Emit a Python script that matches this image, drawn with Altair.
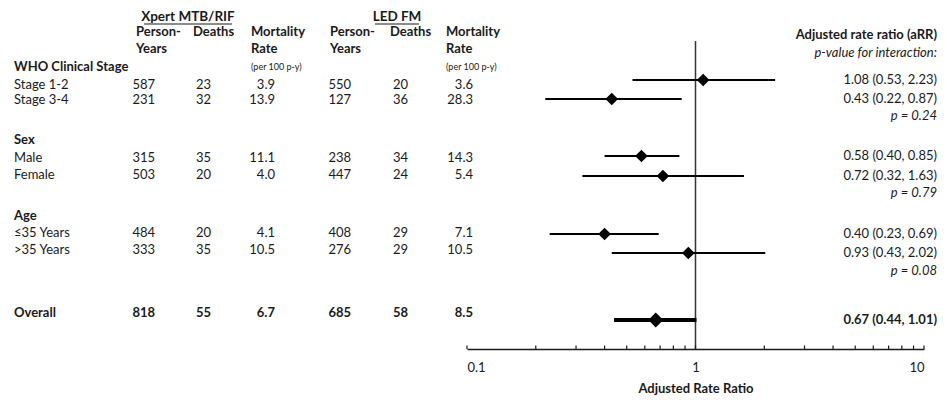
import altair as alt
import pandas as pd

# ---------------- data ----------------
group_labels = ["WHO Clinical Stage", "Sex", "Age"]
subgroups = ["Stage 1-2", "Stage 3-4", "Male", "Female", "≤35 Years", ">35 Years"]
xpert_py = [587, 231, 315, 503, 484, 333]
xpert_deaths = [23, 32, 35, 20, 20, 35]
xpert_rate = [3.9, 13.9, 11.1, 4.0, 4.1, 10.5]
led_py = [550, 127, 238, 447, 408, 276]
led_deaths = [20, 36, 34, 24, 29, 29]
led_rate = [3.6, 28.3, 14.3, 5.4, 7.1, 10.5]
arr = [1.08, 0.43, 0.58, 0.72, 0.40, 0.93]
arr_lo = [0.53, 0.22, 0.40, 0.32, 0.23, 0.43]
arr_hi = [2.23, 0.87, 0.85, 1.63, 0.69, 2.02]
p_values = ["0.24", "0.79", "0.08"]

overall_label = "Overall"
overall_xpert = [818, 55, 6.7]
overall_led = [685, 58, 8.5]
overall_arr = [0.67, 0.44, 1.01]

axis_ticks_major = [0.1, 1, 10]
axis_ticks_minor = [0.2, 0.3, 0.4, 0.5, 0.6, 0.7, 0.8, 0.9, 2, 3, 4, 5, 6, 7, 8, 9]

# ---------------- layout ----------------
TOP = 6                      # top padding of the chart
BOTTOM = 46                  # room for axis labels and title
W = 931


def py(v):
    """page y -> chart y"""
    return v - 8 - TOP


H = py(349)
FONT = "Lato"
FS = 13
TXT = "#1a1a1a"

group_y = [py(v) for v in [67, 140, 216]]
table_row_y = [py(v) for v in [85, 100, 158, 175, 233, 250]]
overall_table_y = py(313)
forest_row_y = [py(v) for v in [80, 99, 156, 176, 234, 253]]
overall_forest_y = py(320)
p_y = [py(v) for v in [116, 193, 271]]

COL_LABEL = 6
COL_XPY, COL_XD, COL_XR = 147, 203, 267
COL_LPY, COL_LD, COL_LR = 343, 400, 465
COL_RIGHT = 929

Y = alt.Y("ypos:Q", scale=alt.Scale(domain=[0, H], range=[0, H]), axis=None)
XLOG = alt.Scale(type="log", domain=[0.1, 10], range=[459, 916])


def fmt_rate(v):
    return f"{v:.1f}"


rows = pd.DataFrame({
    "label": subgroups,
    "xpy": [str(v) for v in xpert_py],
    "xd": [str(v) for v in xpert_deaths],
    "xr": [fmt_rate(v) for v in xpert_rate],
    "lpy": [str(v) for v in led_py],
    "ld": [str(v) for v in led_deaths],
    "lr": [fmt_rate(v) for v in led_rate],
    "ypos": table_row_y,
})
overall_row = pd.DataFrame({
    "label": [overall_label],
    "xpy": [str(overall_xpert[0])], "xd": [str(overall_xpert[1])], "xr": [fmt_rate(overall_xpert[2])],
    "lpy": [str(overall_led[0])], "ld": [str(overall_led[1])], "lr": [fmt_rate(overall_led[2])],
    "ypos": [overall_table_y],
})
groups_df = pd.DataFrame({"label": group_labels, "ypos": group_y})

forest = pd.DataFrame({
    "arr": arr, "lo": arr_lo, "hi": arr_hi, "ypos": forest_row_y,
    "txt": [f"{a:.2f} ({l:.2f}, {h:.2f})" for a, l, h in zip(arr, arr_lo, arr_hi)],
})
forest_overall = pd.DataFrame({
    "arr": [overall_arr[0]], "lo": [overall_arr[1]], "hi": [overall_arr[2]], "ypos": [overall_forest_y],
    "txt": [f"{overall_arr[0]:.2f} ({overall_arr[1]:.2f}, {overall_arr[2]:.2f})"],
})
pvals_df = pd.DataFrame({"txt": [f"p = {p}" for p in p_values], "ypos": p_y})
ticks_df = pd.DataFrame({"v": axis_ticks_major + axis_ticks_minor})


def text_layer(df, field, x, align="left", weight="normal", style="normal", size=FS):
    return alt.Chart(df).mark_text(
        align=align, baseline="middle", font=FONT, fontSize=size,
        fontWeight=weight, fontStyle=style, color=TXT,
    ).encode(x=alt.value(x), y=Y, text=alt.Text(f"{field}:N"))


def header(text, x, y, align="left", weight="bold", style="normal", size=FS):
    df = pd.DataFrame({"t": [text], "ypos": [py(y)]})
    return text_layer(df, "t", x, align=align, weight=weight, style=style, size=size)


layers = []

# headers (y in page coordinates)
layers += [
    header("Xpert MTB/RIF", 180, 17, align="center", size=13.5),
    header("LED FM", 389, 17, align="center", size=13.5),
    header("Person-", 128, 32), header("Years", 128, 49),
    header("Deaths", 185, 32),
    header("Mortality", 243, 32), header("Rate", 243, 49),
    header("(per 100 p-y)", 243, 67, weight="normal", size=9),
    header("Person-", 322, 32), header("Years", 322, 49),
    header("Deaths", 382, 32),
    header("Mortality", 438, 32), header("Rate", 438, 49),
    header("(per 100 p-y)", 438, 67, weight="normal", size=9),
    header("Adjusted rate ratio (aRR)", COL_RIGHT, 35, align="right"),
    header("p-value for interaction:", COL_RIGHT, 53, align="right", weight="normal", style="italic"),
]

# underlines of the two test headers
for a, b in [(136, 224), (367, 411)]:
    layers.append(
        alt.Chart(pd.DataFrame({"d": [0]})).mark_rule(color=TXT, strokeWidth=1.2).encode(
            x=alt.value(a), x2=alt.value(b), y=alt.value(py(24))
        )
    )

# group labels
layers.append(text_layer(groups_df, "label", COL_LABEL, weight="bold"))

# table body
for df, w in [(rows, "normal"), (overall_row, "bold")]:
    layers += [
        text_layer(df, "label", COL_LABEL, weight=w),
        text_layer(df, "xpy", COL_XPY, align="right", weight=w),
        text_layer(df, "xd", COL_XD, align="right", weight=w),
        text_layer(df, "xr", COL_XR, align="right", weight=w),
        text_layer(df, "lpy", COL_LPY, align="right", weight=w),
        text_layer(df, "ld", COL_LD, align="right", weight=w),
        text_layer(df, "lr", COL_LR, align="right", weight=w),
    ]

# reference line at 1
layers.append(
    alt.Chart(pd.DataFrame({"v": [1]})).mark_rule(color="#333333", strokeWidth=1.5).encode(
        x=alt.X("v:Q", scale=XLOG), y=alt.value(py(41)), y2=alt.value(H)
    )
)

# axis ticks (pointing up)
layers.append(
    alt.Chart(ticks_df).mark_rule(color=TXT, strokeWidth=1.2).encode(
        x=alt.X("v:Q", scale=XLOG), y=alt.value(H - 3.5), y2=alt.value(H)
    )
)

# forest plot: CIs and diamonds
layers.append(
    alt.Chart(forest).mark_rule(color="#000000", strokeWidth=2).encode(
        x=alt.X("lo:Q", scale=XLOG), x2="hi:Q", y=Y
    )
)
layers.append(
    alt.Chart(forest_overall).mark_rule(color="#000000", strokeWidth=4).encode(
        x=alt.X("lo:Q", scale=XLOG), x2="hi:Q", y=Y
    )
)
layers.append(
    alt.Chart(forest).mark_point(shape="diamond", filled=True, size=160, color="#000000", opacity=1).encode(
        x=alt.X("arr:Q", scale=XLOG), y=Y
    )
)
layers.append(
    alt.Chart(forest_overall).mark_point(shape="diamond", filled=True, size=220, color="#000000", opacity=1).encode(
        x=alt.X(
            "arr:Q", scale=XLOG,
            axis=alt.Axis(
                values=axis_ticks_major, format="~g", ticks=False, grid=False,
                domainColor=TXT, domainWidth=1.5,
                labelFont=FONT, labelFontSize=FS, labelColor=TXT, labelPadding=12,
                title="Adjusted Rate Ratio", titleFont=FONT, titleFontSize=FS,
                titleFontWeight="bold", titleColor=TXT, titlePadding=8,
            ),
        ),
        y=Y,
    )
)

# right-hand text
layers.append(text_layer(forest, "txt", COL_RIGHT, align="right"))
layers.append(text_layer(forest_overall, "txt", COL_RIGHT, align="right", weight="bold"))
layers.append(text_layer(pvals_df, "txt", COL_RIGHT, align="right", style="italic"))

chart = alt.layer(*layers).properties(
    width=W, height=H,
    autosize=alt.AutoSizeParams(type="none"),
    padding={"left": 0, "top": TOP, "right": 0, "bottom": BOTTOM},
    background="white",
).configure_view(stroke=None)

chart.save("out.html", embed_options={"renderer": "svg", "actions": False})
